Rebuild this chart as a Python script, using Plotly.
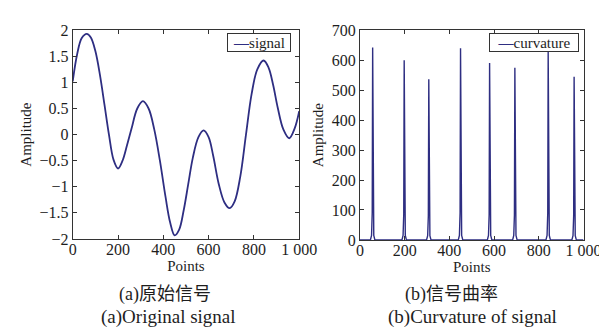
import plotly.graph_objects as go

# ---- data ----
signal_x = [0, 20, 40, 62, 80, 100, 120, 140, 160, 180, 200, 220, 240, 260, 285,
            310, 335, 360, 385, 410, 430, 450, 470, 490, 510, 530, 555, 578, 600,
            620, 645, 670, 693, 715, 740, 765, 790, 815, 843, 865, 885, 905, 930,
            956, 980, 1000]
signal_y = [1.02, 1.55, 1.85, 1.93, 1.86, 1.60, 1.15, 0.58, 0.00, -0.48, -0.65,
            -0.50, -0.20, 0.12, 0.50, 0.64, 0.50, 0.10, -0.50, -1.20, -1.68,
            -1.93, -1.82, -1.45, -0.95, -0.45, -0.05, 0.08, -0.05, -0.40, -0.95,
            -1.30, -1.41, -1.28, -0.80, 0.00, 0.78, 1.25, 1.42, 1.28, 0.95, 0.52,
            0.10, -0.07, 0.12, 0.45]

curv_x = [0, 47, 52, 55, 57, 59, 62, 67,
          188, 193, 196, 198, 200, 203, 208,
          298, 303, 306, 308, 310, 313, 318,
          440, 445, 448, 450, 452, 455, 460,
          570, 575, 578, 580, 582, 585, 590,
          683, 688, 691, 693, 695, 698, 703,
          832, 837, 840, 842, 844, 847, 852,
          948, 953, 956, 958, 960, 963, 968, 1000]
curv_y = [0, 0, 15, 90, 642, 90, 15, 0,
          0, 15, 85, 600, 85, 15, 0,
          0, 14, 80, 536, 80, 14, 0,
          0, 15, 90, 640, 90, 15, 0,
          0, 15, 85, 591, 85, 15, 0,
          0, 15, 82, 575, 82, 15, 0,
          0, 15, 88, 628, 88, 15, 0,
          0, 14, 80, 545, 80, 14, 0, 0]

x_ticks = [0, 200, 400, 600, 800, 1000]
x_tick_text = ["0", "200", "400", "600", "800", "1 000"]
sig_y_ticks = [-2, -1.5, -1, -0.5, 0, 0.5, 1, 1.5, 2]
curv_y_ticks = [0, 100, 200, 300, 400, 500, 600, 700]

series_names = ["signal", "curvature"]
captions_zh = ["(a)原始信号", "(b)信号曲率"]
captions_en = ["(a)Original signal", "(b)Curvature of signal"]

# ---- figure ----
W, H = 607, 332
LINE = "#2e2e82"
SERIF = "Liberation Serif, Times New Roman, serif"
CJK = "Liberation Serif, Noto Sans CJK SC, serif"
TXT = "#1e1e1e"

fig = go.Figure()
fig.add_trace(go.Scatter(x=signal_x, y=signal_y, mode="lines", name=series_names[0],
                         line=dict(color=LINE, width=1.8, shape="spline", smoothing=1.0),
                         xaxis="x", yaxis="y", showlegend=False))
fig.add_trace(go.Scatter(x=curv_x, y=curv_y, mode="lines", name=series_names[1],
                         line=dict(color=LINE, width=1.4),
                         xaxis="x2", yaxis="y2", showlegend=False))


def px(v):
    return v / W


def py(v):
    return 1 - v / H


axis_common = dict(showline=True, linecolor="#333", linewidth=1, mirror="ticks",
                   ticks="inside", ticklen=4, tickcolor="#333", showgrid=False,
                   zeroline=False, tickfont=dict(family=SERIF, size=16, color=TXT),
                   title_font=dict(family=SERIF, size=15, color=TXT))

fig.update_layout(
    width=W, height=H, margin=dict(l=0, r=0, t=0, b=0),
    paper_bgcolor="white", plot_bgcolor="white",
    xaxis=dict(domain=[px(63), px(298)], range=[0, 1000], tickvals=x_ticks,
               ticktext=x_tick_text, anchor="y", ticklabelstandoff=-4,
               title=dict(text="Points", standoff=0), **axis_common),
    yaxis=dict(domain=[py(235), py(15)], range=[-2, 2], tickvals=sig_y_ticks,
               anchor="x", title=dict(text="Amplitude", standoff=4), **axis_common),
    xaxis2=dict(domain=[px(361), px(593)], range=[0, 1000], tickvals=x_ticks,
                ticktext=x_tick_text, anchor="y2", ticklabelstandoff=-4,
                title=dict(text="Points", standoff=0), **axis_common),
    yaxis2=dict(domain=[py(236), py(15)], range=[0, 700], tickvals=curv_y_ticks,
                anchor="x2", title=dict(text="Amplitude", standoff=4), **axis_common),
    showlegend=False,
)

# legend boxes (line sample + series name)
legend_boxes = [(289, 18, 64), (588, 18, 90)]
for (rx, ty, wbox), name in zip(legend_boxes, series_names):
    fig.add_annotation(
        x=px(rx), y=py(ty), xref="paper", yref="paper", xanchor="right", yanchor="top",
        text=f'<span style="color:{LINE}"><b>—</b></span>{name}',
        showarrow=False, bgcolor="white", bordercolor="#333", borderwidth=1,
        borderpad=0, width=wbox - 2, height=17, align="center",
        font=dict(family=SERIF, size=15, color=TXT))

# captions
zh_pos = [(159, 294), (456, 294)]
en_pos = [(162, 317), (478, 317)]
for (cx, cy), t in zip(zh_pos, captions_zh):
    fig.add_annotation(x=px(cx), y=py(cy), xref="paper", yref="paper", text=t,
                       showarrow=False, xanchor="center", yanchor="middle",
                       font=dict(family=CJK, size=18, color=TXT))
for (cx, cy), t in zip(en_pos, captions_en):
    fig.add_annotation(x=px(cx), y=py(cy), xref="paper", yref="paper", text=t,
                       showarrow=False, xanchor="center", yanchor="middle",
                       font=dict(family=SERIF, size=19, color=TXT))

fig.write_html("out.html")
